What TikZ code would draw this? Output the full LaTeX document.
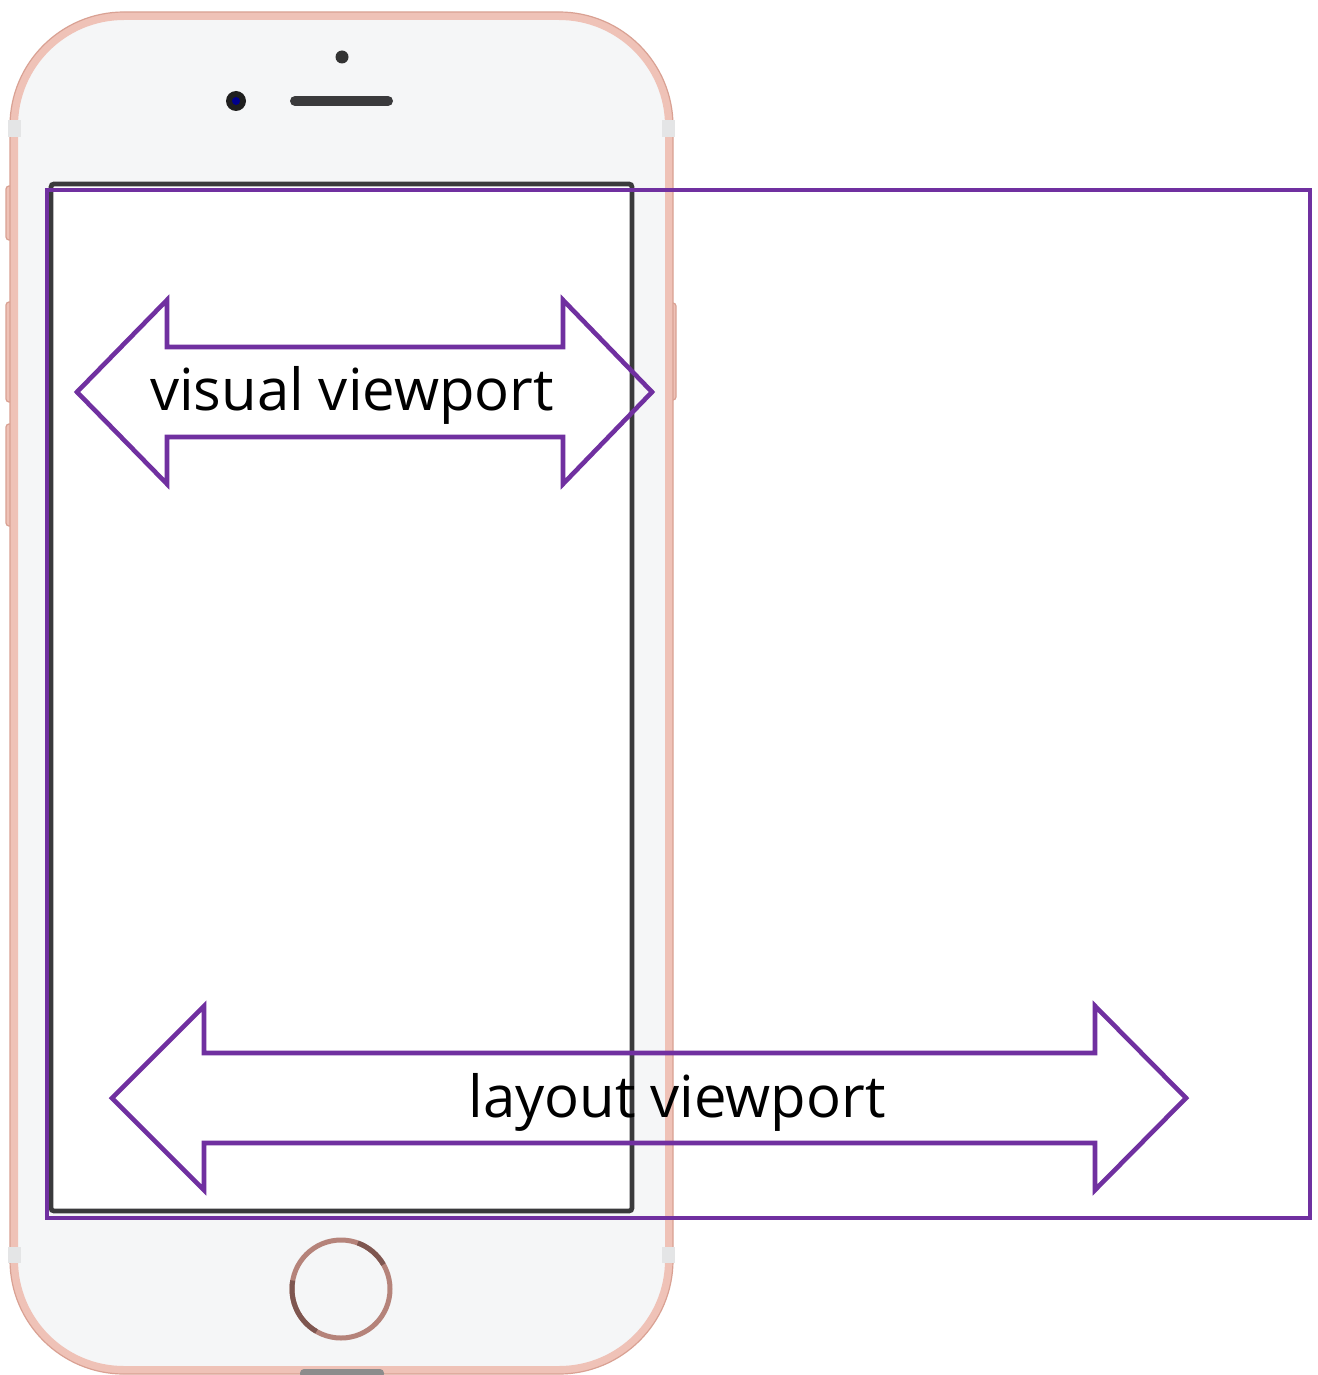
\documentclass[tikz,border=0pt]{standalone}
\usepackage{fontspec}
\setmainfont{Open Sans}
\definecolor{vpurple}{HTML}{7030A0}
\definecolor{rosegold}{HTML}{EFC2B7}
\definecolor{rosedark}{HTML}{D9A193}
\definecolor{face}{HTML}{F5F6F7}
\definecolor{antenna}{HTML}{E4E5E6}
\definecolor{bezel}{HTML}{3A3A3C}
\definecolor{ringc}{HTML}{B5837A}
\definecolor{ringdark}{HTML}{7E5650}
\begin{document}
\begin{tikzpicture}[x=0.5pt,y=-0.5pt,
  viewport/.style={draw=vpurple,line width=2.3pt,line join=miter},
  vplabel/.style={font=\fontsize{29}{33}\selectfont,text=black,inner sep=0pt,anchor=base},
  sidebtn/.style={fill=rosegold,draw=rosedark,line width=0.6pt,rounded corners=1.5pt}]
\useasboundingbox (0,0) rectangle (1317,1375);
\fill[white] (0,0) rectangle (1317,1375);

% side buttons (behind the body)
\draw[sidebtn] (6,186) rectangle (14,240);
\draw[sidebtn] (6,302) rectangle (14,402);
\draw[sidebtn] (6,424) rectangle (14,526);
\draw[sidebtn] (668,303) rectangle (676,400);

% phone body
\draw[fill=face,draw=rosegold,line width=4pt,rounded corners=55pt] (14,16) rectangle (669,1370);
\draw[draw=rosedark,line width=0.6pt,rounded corners=57pt] (10,12) rectangle (673,1374);

% antenna bands
\fill[antenna] (8,120) rectangle (21,137);
\fill[antenna] (662,120) rectangle (675,137);
\fill[antenna] (8,1247) rectangle (21,1263);
\fill[antenna] (662,1247) rectangle (675,1263);

% bottom port
\fill[black!45,rounded corners=2pt] (300,1369) rectangle (384,1378);

% camera, sensor, speaker
\fill[black!88] (236,101) circle (10);
\fill[blue!55!black] (236,101) circle (4);
\fill[black!80] (342,57) circle (6.5);
\draw[bezel,line width=5pt,line cap=round] (295,101) -- (388,101);

% screen
\draw[bezel,fill=white,line width=2.4pt,rounded corners=1.5pt] (51,184) rectangle (632,1211);

% home button
\draw[ringc,line width=2.5pt] (341,1289) circle (49);
\draw[ringdark,line width=2.5pt] (341,1289) ++(120:49) arc (120:190:49);
\draw[ringdark,line width=2.5pt] (341,1289) ++(290:49) arc (290:330:49);

% layout viewport frame
\draw[viewport] (47,190) rectangle (1310,1218);

% double arrows
\draw[viewport] (77,392) -- (167,300) -- (167,347) -- (563,347) -- (563,300) -- (652,392)
  -- (563,484) -- (563,437) -- (167,437) -- (167,484) -- cycle;
\draw[viewport] (112,1098) -- (204,1006) -- (204,1053) -- (1095,1053) -- (1095,1006) -- (1186,1098)
  -- (1095,1190) -- (1095,1143) -- (204,1143) -- (204,1190) -- cycle;

\node[vplabel] (vv) at (352,410) {visual viewport};
\node[vplabel] (lv) at (677,1117) {layout viewport};
\end{tikzpicture}
\end{document}
